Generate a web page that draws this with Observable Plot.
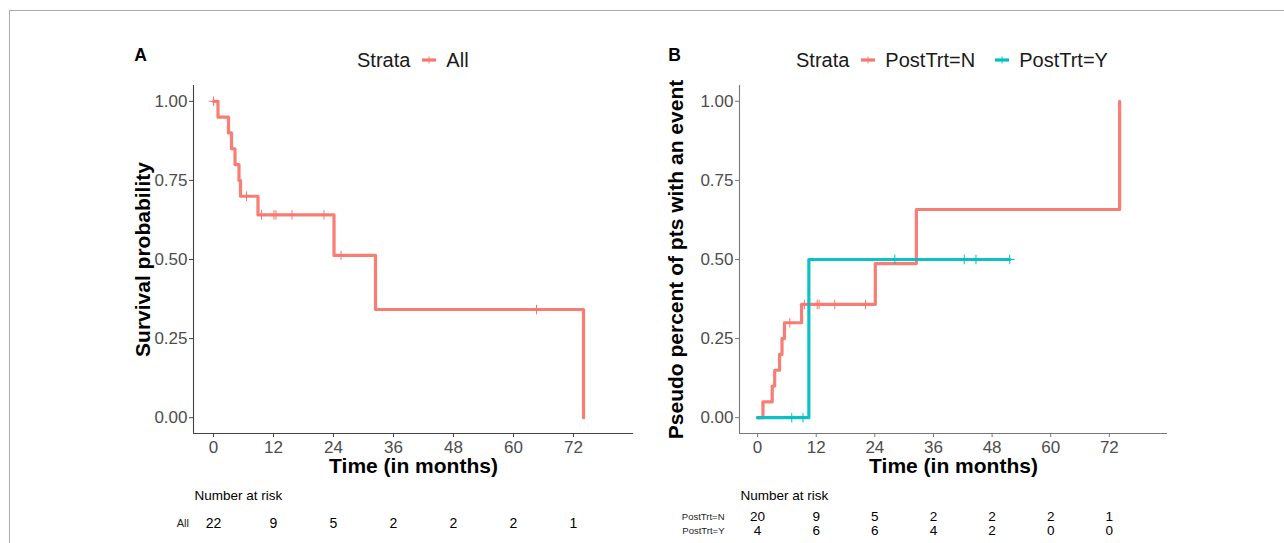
<!DOCTYPE html>
<html>
<head>
<meta charset="utf-8">
<script src="https://cdn.jsdelivr.net/npm/d3@7"></script>
<script src="https://cdn.jsdelivr.net/npm/@observablehq/plot@0.6"></script>
<style>
  html, body { margin: 0; padding: 0; background: #fff; }
  #wrap { position: relative; width: 1284px; height: 543px; overflow: hidden; font-family: "Liberation Sans", Arial, sans-serif; }
  #frame { position: absolute; left: 9px; top: 10px; width: 1300px; height: 600px; border-top: 1px solid #aaa; border-left: 1px solid #aaa; }
  .panel { position: absolute; top: 0; }
  .legend { position: absolute; top: 48px; height: 24px; display: flex; align-items: center; font-size: 20px; color: #1a1a1a; white-space: nowrap; }
  .legend svg { display: block; margin: 0 10px 0 12px; }
  .legend .lab { margin-right: 8px; }
</style>
</head>
<body>
<div id="wrap">
  <div id="frame"></div>
  <div id="pA" class="panel" style="left:0px"></div>
  <div id="pB" class="panel" style="left:650px"></div>
  <div class="legend" id="legA" style="left:357px"></div>
  <div class="legend" id="legB" style="left:796px"></div>
</div>
<script>
// ---------- data ----------
const timeTicks = [0, 12, 24, 36, 48, 60, 72];
const probTicks = [0, 0.25, 0.5, 0.75, 1];

// Panel A: Kaplan-Meier, all patients
const timesA = [0, 0.9, 3.0, 3.6, 4.3, 5.1, 5.4, 8.9, 24.1, 32.4, 74.0];
const survA  = [1, 0.95, 0.90, 0.85, 0.80, 0.75, 0.70, 0.641, 0.513, 0.342, 0];
const censTimesA = [0, 6.6, 9.6, 12.1, 12.5, 15.7, 22.1, 25.5, 64.6];
const censSurvA  = [1, 0.70, 0.641, 0.641, 0.641, 0.641, 0.641, 0.513, 0.342];
const riskA = [22, 9, 5, 2, 2, 2, 1];

// Panel B: pseudo cumulative event by PostTrt
const timesN = [0, 1.1, 3.0, 3.5, 4.5, 5.0, 5.5, 9.0, 24.1, 32.5, 74.1];
const incN   = [0, 0.05, 0.10, 0.15, 0.20, 0.25, 0.30, 0.358, 0.487, 0.658, 1.0];
const censTimesN = [6.6, 9.6, 12.2, 12.6, 15.8, 22.1];
const censIncN   = [0.30, 0.358, 0.358, 0.358, 0.358, 0.358];
const timesY = [0, 10.5, 51.6];
const incY   = [0, 0.5, 0.5];
const censTimesY = [7.0, 9.3, 28.1, 42.3, 44.7, 51.6];
const censIncY   = [0, 0, 0.5, 0.5, 0.5, 0.5];
const riskN = [20, 9, 5, 2, 2, 2, 1];
const riskY = [4, 6, 6, 4, 2, 0, 0];

const RED = "#F8766D", TEAL = "#00BFC4";

// ---------- helpers ----------
const zip = (t, v) => t.map((d, i) => ({t: d, v: v[i]}));
const riskRows = (arr) => timeTicks.map((t, i) => ({t, n: arr[i]}));
const font = "Liberation Sans, Arial, sans-serif";

function basePanel(opts) {
  const {width, marginLeft, marginRight, xDomain, yTitle, yTitleDx, letter, letterDx, axisColor, series, riskTables, riskLabelDx} = opts;
  const marks = [
    Plot.ruleX([xDomain[0]], {stroke: axisColor, strokeWidth: 1.1}),
    Plot.ruleY([-0.05], {stroke: axisColor, strokeWidth: 1.1}),
    Plot.axisX(timeTicks, {tickSize: 4, tickPadding: 3, fontSize: 17, stroke: axisColor, fill: "#4d4d4d", label: null}),
    Plot.axisY(probTicks, {tickSize: 4, tickPadding: 2, fontSize: 17, stroke: axisColor, fill: "#4d4d4d", label: null, tickFormat: d => d.toFixed(2)}),
  ];
  for (const s of series) {
    marks.push(Plot.line(s.line, {x: "t", y: "v", curve: "step-after", stroke: s.color, strokeWidth: 3.2, strokeOpacity: 0.95}));
    marks.push(Plot.dot(s.cens, {x: "t", y: "v", symbol: "plus", r: 3.2, stroke: s.color, strokeWidth: 1}));
  }
  marks.push(
    Plot.text([yTitle], {text: d => d, frameAnchor: "left", textAnchor: "middle", lineAnchor: "middle", rotate: -90, dx: yTitleDx, fontSize: 21, fontWeight: "bold", fill: "#000"}),
    Plot.text(["Time (in months)"], {text: d => d, frameAnchor: "bottom", textAnchor: "middle", lineAnchor: "middle", dy: 33, fontSize: 21, fontWeight: "bold", fill: "#000"}),
    Plot.text([letter], {text: d => d, frameAnchor: "top-left", textAnchor: "middle", lineAnchor: "middle", dx: letterDx, dy: -30, fontSize: 17.5, fontWeight: "bold", fill: "#000"}),
    Plot.text(["Number at risk"], {text: d => d, frameAnchor: "bottom-left", textAnchor: "start", lineAnchor: "middle", dx: 1, dy: 62, fontSize: 13.5, fill: "#000"})
  );
  for (const r of riskTables) {
    marks.push(Plot.text(riskRows(r.values), {x: "t", text: "n", frameAnchor: "bottom", lineAnchor: "middle", dy: r.dy, fontSize: r.fontSize, fill: "#000"}));
    marks.push(Plot.text([r.label], {text: d => d, frameAnchor: "bottom-left", textAnchor: "end", lineAnchor: "middle", dx: riskLabelDx, dy: r.dy, fontSize: r.labelSize, fill: "#222"}));
  }
  return Plot.plot({
    width, height: 543, marginLeft, marginRight, marginTop: 85, marginBottom: 110,
    x: {domain: xDomain}, y: {domain: [-0.05, 1.05]},
    style: {fontFamily: font, background: "transparent", overflow: "visible"},
    marks
  });
}

document.getElementById("pA").append(basePanel({
  width: 650, marginLeft: 193, marginRight: 17, xDomain: [-4, 84],
  yTitle: "Survival probability", yTitleDx: -50, letter: "A", letterDx: -53,
  axisColor: "#444",
  series: [{line: zip(timesA, survA), cens: zip(censTimesA, censSurvA), color: RED}],
  riskTables: [{label: "All", values: riskA, dy: 90, fontSize: 14, labelSize: 11}],
  riskLabelDx: -4.5
}));

document.getElementById("pB").append(basePanel({
  width: 634, marginLeft: 89, marginRight: 117, xDomain: [-3.7, 83.9],
  yTitle: "Pseudo percent of pts with an event", yTitleDx: -63, letter: "B", letterDx: -65,
  axisColor: "#777",
  series: [
    {line: zip(timesN, incN), cens: zip(censTimesN, censIncN), color: RED},
    {line: zip(timesY, incY), cens: zip(censTimesY, censIncY), color: TEAL}
  ],
  riskTables: [
    {label: "PostTrt=N", values: riskN, dy: 83.5, fontSize: 13.5, labelSize: 9.5},
    {label: "PostTrt=Y", values: riskY, dy: 97.5, fontSize: 13.5, labelSize: 9.5}
  ],
  riskLabelDx: -15
}));

// ---------- legends ----------
function key(color) {
  return `<svg width="14" height="10" viewBox="0 0 14 10"><line x1="0" y1="5" x2="14" y2="5" stroke="${color}" stroke-width="3.2"/><line x1="7" y1="1.5" x2="7" y2="8.5" stroke="${color}" stroke-width="1"/></svg>`;
}
document.getElementById("legA").innerHTML = `<span>Strata</span>${key(RED)}<span class="lab">All</span>`;
document.getElementById("legB").innerHTML = `<span>Strata</span>${key(RED)}<span class="lab">PostTrt=N</span>${key(TEAL)}<span class="lab">PostTrt=Y</span>`;
</script>
</body>
</html>
